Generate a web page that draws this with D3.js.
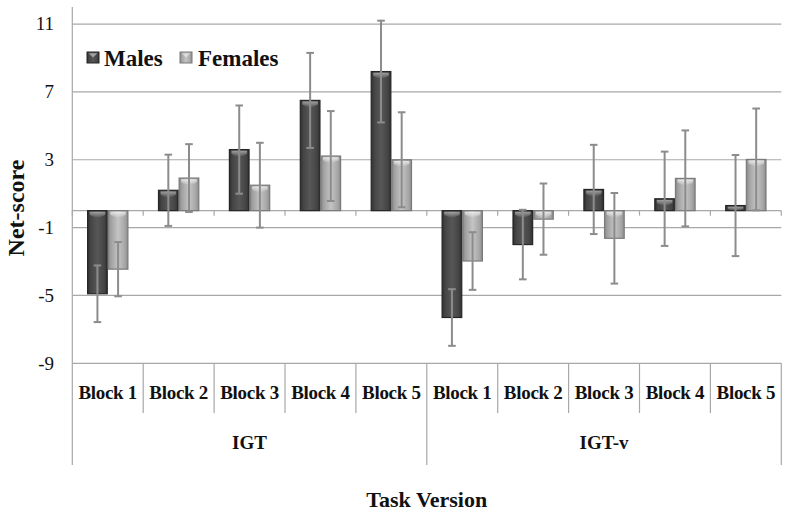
<!DOCTYPE html>
<html>
<head>
<meta charset="utf-8">
<script src="https://cdn.jsdelivr.net/npm/d3@7"></script>
<style>
  html, body { margin: 0; padding: 0; background: #fff; }
  svg { display: block; }
  text { font-family: "Liberation Serif", "Times New Roman", serif; fill: #111; }
</style>
</head>
<body>
<svg id="chart" width="790" height="514"></svg>
<script>
// ---- data ----
const tasks = ["IGT", "IGT-v"];
const blocks = ["Block 1", "Block 2", "Block 3", "Block 4", "Block 5"];
const seriesNames = ["Males", "Females"];
const malesMean   = [-4.9, 1.2, 3.6, 6.5, 8.2, -6.3, -2.0, 1.25, 0.7, 0.3];
const malesErr    = [1.67, 2.1, 2.6, 2.8, 3.0, 1.67, 2.05, 2.63, 2.78, 2.98];
const femalesMean = [-3.45, 1.92, 1.5, 3.22, 3.0, -2.97, -0.5, -1.63, 1.9, 3.02];
const femalesErr  = [1.6, 2.0, 2.5, 2.65, 2.8, 1.7, 2.1, 2.67, 2.83, 3.0];
const yTicks = [-9, -5, -1, 3, 7, 11];
const yTitle = "Net-score";
const xTitle = "Task Version";

(function () {
// ---- layout ----
const svg = d3.select("#chart");
const pL = 72.3, pR = 781.3, pT = 7.1, pB = 363.3;
const y = d3.scaleLinear().domain([-9, 12]).range([pB, pT]);

const cats = [];
tasks.forEach((t, ti) => blocks.forEach((b, bi) => cats.push({ id: ti * 5 + bi, task: t, block: b })));
const x0 = d3.scaleBand().domain(cats.map(d => d.id)).range([pL, pR]).padding(0);
const x1 = d3.scaleBand().domain(seriesNames).range([14.8, x0.bandwidth() - 14.8]).padding(0);

// gradients
const defs = svg.append("defs");
function hGrad(id, stops) {
  const g = defs.append("linearGradient").attr("id", id).attr("x1", "0").attr("x2", "1").attr("y1", "0").attr("y2", "0");
  stops.forEach(s => g.append("stop").attr("offset", s[0]).attr("stop-color", s[1]));
}
hGrad("gM", [[0, "#2f2f2f"], [0.15, "#444"], [0.5, "#575757"], [0.85, "#444"], [1, "#2f2f2f"]]);
hGrad("gF", [[0, "#8a8a8a"], [0.15, "#a2a2a2"], [0.5, "#c4c4c4"], [0.85, "#a6a6a6"], [1, "#8c8c8c"]]);
const hl = defs.append("linearGradient").attr("id", "gH").attr("x1", "0").attr("x2", "0").attr("y1", "0").attr("y2", "1");
hl.append("stop").attr("offset", 0).attr("stop-color", "#fff").attr("stop-opacity", 0.85);
hl.append("stop").attr("offset", 1).attr("stop-color", "#fff").attr("stop-opacity", 0.05);

const fills = { Males: "url(#gM)", Females: "url(#gF)" };
const strokes = { Males: "#262626", Females: "#7a7a7a" };

// gridlines
svg.append("g").selectAll("line").data(yTicks).join("line")
  .attr("x1", pL).attr("x2", pR)
  .attr("y1", d => y(d)).attr("y2", d => y(d))
  .attr("stroke", "#a8a8a8").attr("stroke-width", 1.2);

// y tick labels
svg.append("g").selectAll("text").data(yTicks).join("text")
  .attr("x", 54).attr("y", d => y(d)).attr("dy", "0.33em")
  .attr("text-anchor", "end").attr("font-size", 19)
  .text(d => d);

// left axis line + table lines
const tableBottomBlock = 413, tableBottomTask = 465;
svg.append("line").attr("x1", pL).attr("x2", pL).attr("y1", y(12)).attr("y2", tableBottomTask)
  .attr("stroke", "#a8a8a8").attr("stroke-width", 1.2);
const bounds = d3.range(1, 10).map(i => x0(i));
svg.append("g").selectAll("line").data(bounds).join("line")
  .attr("x1", d => d).attr("x2", d => d)
  .attr("y1", pB).attr("y2", (d, i) => (i === 4 ? tableBottomTask : tableBottomBlock))
  .attr("stroke", "#a8a8a8").attr("stroke-width", 1.2);
svg.append("line").attr("x1", pR).attr("x2", pR).attr("y1", pB).attr("y2", tableBottomTask)
  .attr("stroke", "#a8a8a8").attr("stroke-width", 1.2);

// zero axis with ticks
svg.append("line").attr("x1", pL).attr("x2", pR).attr("y1", y(0)).attr("y2", y(0))
  .attr("stroke", "#a8a8a8").attr("stroke-width", 1.2);
svg.append("g").selectAll("line").data(d3.range(0, 11).map(i => i < 10 ? x0(i) : pR)).join("line")
  .attr("x1", d => d).attr("x2", d => d).attr("y1", y(0)).attr("y2", y(0) + 5)
  .attr("stroke", "#a8a8a8").attr("stroke-width", 1.2);

// bars
const barData = [];
cats.forEach((c, i) => {
  barData.push({ cat: c.id, s: "Males", v: malesMean[i], e: malesErr[i] });
  barData.push({ cat: c.id, s: "Females", v: femalesMean[i], e: femalesErr[i] });
});
const gBars = svg.append("g");
barData.forEach(d => {
  const bx = x0(d.cat) + x1(d.s);
  const bw = x1.bandwidth();
  const y0 = y(Math.max(0, d.v)), y1v = y(Math.min(0, d.v));
  const h = Math.max(1.5, y1v - y0);
  gBars.append("rect").attr("x", bx + 0.5).attr("y", y0).attr("width", bw - 1).attr("height", h)
    .attr("fill", fills[d.s]).attr("stroke", strokes[d.s]).attr("stroke-width", 1.2);
  const hh = Math.min(6, h - 1);
  if (hh > 1.5) {
    const l = bx + 2.5, r = bx + bw - 2.5, t = y0 + 1.2;
    gBars.append("path")
      .attr("d", `M${l},${t} L${r},${t} L${r},${t + hh * 0.5} Q${(l + r) / 2},${t + hh * 1.4} ${l},${t + hh * 0.5} Z`)
      .attr("fill", "url(#gH)").attr("opacity", d.s === "Males" ? 0.55 : 0.8);
  }
});

// error bars
const gErr = svg.append("g").attr("stroke", "#8c8c8c").attr("stroke-width", 2);
barData.forEach(d => {
  const cx = x0(d.cat) + x1(d.s) + x1.bandwidth() / 2;
  const yt = y(d.v + d.e), yb = y(d.v - d.e);
  gErr.append("line").attr("x1", cx).attr("x2", cx).attr("y1", yt).attr("y2", yb);
  gErr.append("line").attr("x1", cx - 3.8).attr("x2", cx + 3.8).attr("y1", yt).attr("y2", yt);
  gErr.append("line").attr("x1", cx - 3.8).attr("x2", cx + 3.8).attr("y1", yb).attr("y2", yb);
});

// category labels
svg.append("g").selectAll("text").data(cats).join("text")
  .attr("x", d => x0(d.id) + x0.bandwidth() / 2).attr("y", 399)
  .attr("text-anchor", "middle").attr("font-size", 19).attr("font-weight", "bold")
  .attr("letter-spacing", "-0.3")
  .text(d => d.block);
svg.append("g").selectAll("text").data(tasks).join("text")
  .attr("x", (d, i) => (x0(i * 5) + (i === 1 ? pR : x0(5))) / 2).attr("y", 449)
  .attr("text-anchor", "middle").attr("font-size", 19).attr("font-weight", "bold")
  .text(d => d);

// axis titles
svg.append("text").attr("x", (pL + pR) / 2).attr("y", 507)
  .attr("text-anchor", "middle").attr("font-size", 22).attr("font-weight", "bold")
  .text(xTitle);
svg.append("text").attr("transform", `translate(24,208) rotate(-90)`)
  .attr("text-anchor", "middle").attr("font-size", 24).attr("font-weight", "bold")
  .text(yTitle);

// legend
const leg = svg.append("g");
const legPos = [{ s: "Males", sx: 87, tx: 104 }, { s: "Females", sx: 180, tx: 198 }];
legPos.forEach(p => {
  leg.append("rect").attr("x", p.sx).attr("y", 52).attr("width", 12).attr("height", 11)
    .attr("fill", fills[p.s]).attr("stroke", strokes[p.s]).attr("stroke-width", 1);
  leg.append("path").attr("d", `M${p.sx + 1.5},${53.2} L${p.sx + 10.5},${53.2} L${p.sx + 6},${57.5} Z`)
    .attr("fill", "#fff").attr("opacity", 0.45);
  leg.append("text").attr("x", p.tx).attr("y", 58).attr("dy", "0.35em")
    .attr("font-size", 23).attr("font-weight", "bold").text(p.s);
});
})();
</script>
</body>
</html>
